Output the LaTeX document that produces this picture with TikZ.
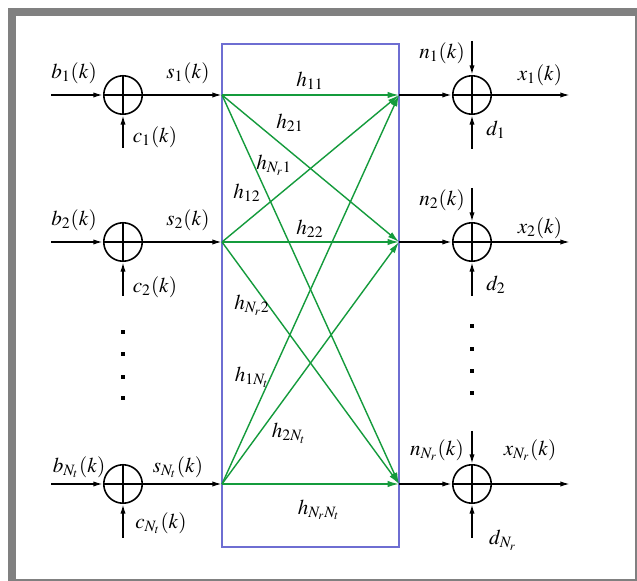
\documentclass[tikz,border=0pt]{standalone}
\usepackage{mathptmx}
\usetikzlibrary{arrows.meta,calc,positioning}
\definecolor{chgreen}{RGB}{20,155,60}
\definecolor{chblue}{RGB}{110,110,210}
\definecolor{framegray}{RGB}{128,128,128}

\begin{document}
\begin{tikzpicture}[
  x=0.02cm, y=-0.02cm,
  >={Latex[length=5.5pt,width=3pt]},
  sig/.style={->, line width=0.9pt},
  link/.style={-{Latex[length=6.5pt,width=3.6pt]}, chgreen, line width=0.8pt},
  adder/.style={circle, draw, line width=0.9pt, minimum size=0.77cm, inner sep=0pt,
    path picture={\draw[line width=0.9pt]
      (path picture bounding box.north) -- (path picture bounding box.south)
      (path picture bounding box.west) -- (path picture bounding box.east);}},
  label/.style={font=\fontsize{12}{14}\selectfont, inner sep=0pt},
  gain/.style={font=\fontsize{12}{14}\selectfont, inner sep=0pt},
  dot/.style={fill=black, minimum size=2.2pt, inner sep=0pt}
]
  \useasboundingbox (0,0) rectangle (637,581);
  % frame
  \fill[framegray] (8,8) rectangle (637,581);
  \fill[white] (16,16) rectangle (635,579);

  % channel box
  \draw[chblue, line width=1.6pt] (222,44) rectangle (399,547);

  % transmit side
  \node[adder] (tadd1) at (123,95) {};
  \node[adder] (tadd2) at (123,242) {};
  \node[adder] (tadd3) at (123,484) {};
  \coordinate (b1) at (51,95);
  \coordinate (b2) at (51,242);
  \coordinate (b3) at (51,484);
  \coordinate (c1) at (123,148);
  \coordinate (c2) at (123,296);
  \coordinate (c3) at (123,538);
  \coordinate (s1) at (222,95);
  \coordinate (s2) at (222,242);
  \coordinate (s3) at (222,484);
  \foreach \i in {1,2,3} {
    \draw[sig] (b\i) -- (tadd\i);
    \draw[sig] (c\i) -- (tadd\i);
    \draw[sig] (tadd\i) -- (s\i);
  }
  \node[label] (lb1) at (74,73) {$b_1(k)$};
  \node[label] (ls1) at (188,73) {$s_1(k)$};
  \node[label] (lc1) at (155,137) {$c_1(k)$};
  \node[label] (lb2) at (74,220) {$b_2(k)$};
  \node[label] (ls2) at (188,220) {$s_2(k)$};
  \node[label] (lc2) at (155,287) {$c_2(k)$};
  \node[label] (lb3) at (79,467) {$b_{N_t}(k)$};
  \node[label] (ls3) at (178,467) {$s_{N_t}(k)$};
  \node[label] (lc3) at (161,523) {$c_{N_t}(k)$};
  \foreach \y in {332,354,377,398}
    \node[dot] at (123,\y) {};

  % receive side
  \coordinate (r1) at (399,95);
  \coordinate (r2) at (399,242);
  \coordinate (r3) at (399,484);
  \node[adder] (radd1) at (472,95) {};
  \node[adder] (radd2) at (472,242) {};
  \node[adder] (radd3) at (472,484) {};
  \coordinate (n1) at (472,41);
  \coordinate (n2) at (472,188);
  \coordinate (n3) at (472,431);
  \coordinate (d1) at (472,149);
  \coordinate (d2) at (472,296);
  \coordinate (d3) at (472,538);
  \coordinate (x1) at (570,95);
  \coordinate (x2) at (570,242);
  \coordinate (x3) at (570,484);
  \foreach \i in {1,2,3} {
    \draw[sig] (r\i) -- (radd\i);
    \draw[sig] (n\i) -- (radd\i);
    \draw[sig] (d\i) -- (radd\i);
    \draw[sig] (radd\i) -- (x\i);
  }
  \node[label] (ln1) at (442,53) {$n_1(k)$};
  \node[label] (lx1) at (540,75) {$x_1(k)$};
  \node[label] (ld1) at (496,130) {$d_1$};
  \node[label] (ln2) at (442,200) {$n_2(k)$};
  \node[label] (lx2) at (540,228) {$x_2(k)$};
  \node[label] (ld2) at (496,285) {$d_2$};
  \node[label] (ln3) at (437,450) {$n_{N_r}(k)$};
  \node[label] (lx3) at (530,450) {$x_{N_r}(k)$};
  \node[label] (ld3) at (503,540) {$d_{N_r}$};
  \foreach \y in {326,349,371,393}
    \node[dot] at (472,\y) {};

  % channel links
  \foreach \j in {1,2,3}
    \foreach \i in {1,2,3}
      \draw[link] (s\j) -- (r\i);
  \node[gain] (h11) at (310,81) {$h_{11}$};
  \node[gain] (h21) at (290,123) {$h_{21}$};
  \node[gain] (hr1) at (274,165) {$h_{N_r1}$};
  \node[gain] (h12) at (247,193) {$h_{12}$};
  \node[gain] (h22) at (310,229) {$h_{22}$};
  \node[gain] (hr2) at (252,305) {$h_{N_r2}$};
  \node[gain] (h1t) at (252,377) {$h_{1N_t}$};
  \node[gain] (h2t) at (289,433) {$h_{2N_t}$};
  \node[gain] (hrt) at (319,510) {$h_{N_rN_t}$};
\end{tikzpicture}
\end{document}
